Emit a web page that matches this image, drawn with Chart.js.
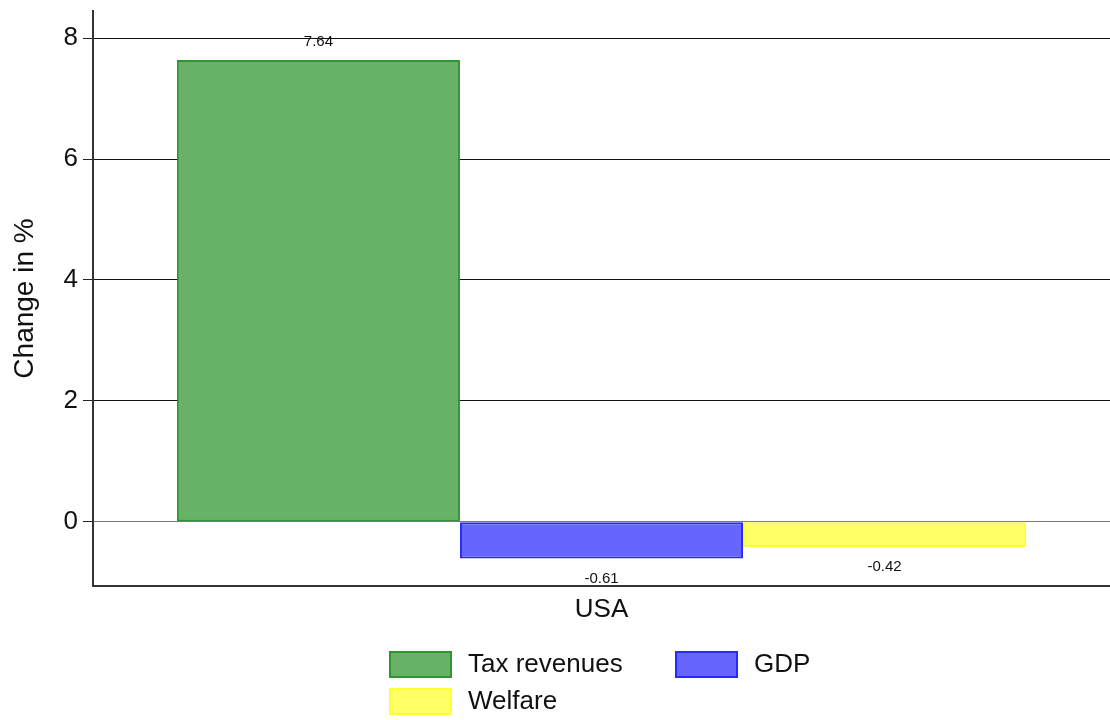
<!DOCTYPE html>
<html>
<head>
<meta charset="utf-8">
<script src="https://cdn.jsdelivr.net/npm/chart.js@4/dist/chart.umd.min.js"></script>
<style>
  html, body { margin: 0; padding: 0; background: #fff; }
  #wrap { width: 1110px; height: 720px; }
</style>
</head>
<body>
<div id="wrap"><canvas id="chart" width="1110" height="720"></canvas></div>
<script>
// data
const categories = ["USA"];
const seriesNames = ["Tax revenues", "GDP", "Welfare"];
const taxRevenues = [7.64];
const gdp = [-0.61];
const welfare = [-0.42];
const yTicks = [0, 2, 4, 6, 8];

const FONT = "'Liberation Sans', Arial, Helvetica, sans-serif";

// value labels above / below each bar
const valueLabels = {
  id: "valueLabels",
  afterDatasetsDraw(chart) {
    const ctx = chart.ctx;
    ctx.save();
    ctx.font = "15px " + FONT;
    ctx.fillStyle = "#111";
    ctx.textAlign = "center";
    ctx.textBaseline = "middle";
    chart.data.datasets.forEach((ds, i) => {
      chart.getDatasetMeta(i).data.forEach((bar, j) => {
        const v = ds.data[j];
        const y = v >= 0 ? bar.y - 18 : bar.y + 20;
        ctx.fillText(v.toFixed(2), bar.x, y);
      });
    });
    ctx.restore();
  }
};

// legend in two columns under the axis
const boxLegend = {
  id: "boxLegend",
  afterDraw(chart) {
    const ctx = chart.ctx;
    const slots = [[389, 651], [675, 651], [389, 688]];
    ctx.save();
    ctx.font = "26px " + FONT;
    ctx.textBaseline = "middle";
    ctx.textAlign = "left";
    chart.data.datasets.forEach((ds, i) => {
      const [x, y] = slots[i];
      ctx.fillStyle = ds.backgroundColor;
      ctx.fillRect(x, y, 63, 27);
      ctx.strokeStyle = ds.borderColor;
      ctx.lineWidth = 2;
      ctx.strokeRect(x + 1, y + 1, 61, 25);
      ctx.fillStyle = "#111";
      ctx.fillText(ds.label, x + 79, y + 14);
    });
    ctx.restore();
  }
};

new Chart(document.getElementById("chart"), {
  type: "bar",
  data: {
    labels: categories,
    datasets: [
      { label: seriesNames[0], data: taxRevenues, backgroundColor: "rgb(103,178,103)", borderColor: "rgb(46,150,46)" },
      { label: seriesNames[1], data: gdp, backgroundColor: "rgb(102,102,255)", borderColor: "rgb(40,40,255)" },
      { label: seriesNames[2], data: welfare, backgroundColor: "rgb(255,255,102)", borderColor: "rgb(255,255,51)" }
    ]
  },
  options: {
    responsive: false,
    animation: false,
    devicePixelRatio: 1,
    layout: { padding: { top: 11, right: 0, bottom: 0, left: 0 } },
    datasets: {
      bar: { categoryPercentage: 0.835, barPercentage: 1.0, borderWidth: 2, borderSkipped: false }
    },
    plugins: {
      legend: { display: false },
      tooltip: { enabled: false }
    },
    scales: {
      x: {
        grid: { display: false, drawTicks: false },
        border: { display: true, color: "#333", width: 2 },
        ticks: { color: "#111", font: { family: FONT, size: 26 }, padding: 8 },
        afterFit(scale) {
          scale.height = 134;
          scale.paddingLeft = 0;
          scale.paddingRight = 0;
        }
      },
      y: {
        min: -1.065,
        max: 8.45,
        afterBuildTicks(scale) { scale.ticks = yTicks.map(v => ({ value: v })); },
        grid: {
          color: ctx => ctx.tick && ctx.tick.value === 0 ? "#7a7a7a" : "#111",
          tickColor: "#222",
          lineWidth: 1,
          tickLength: 10
        },
        border: { display: true, color: "#333", width: 2 },
        ticks: { color: "#111", font: { family: FONT, size: 26 }, padding: 5 },
        title: {
          display: true,
          text: "Change in %",
          color: "#111",
          font: { family: FONT, size: 28 },
          padding: { top: 8, bottom: 0 }
        },
        afterFit(scale) {
          scale.width = 93;
          scale.paddingTop = 0;
          scale.paddingBottom = 0;
        }
      }
    }
  },
  plugins: [valueLabels, boxLegend]
});
</script>
</body>
</html>
